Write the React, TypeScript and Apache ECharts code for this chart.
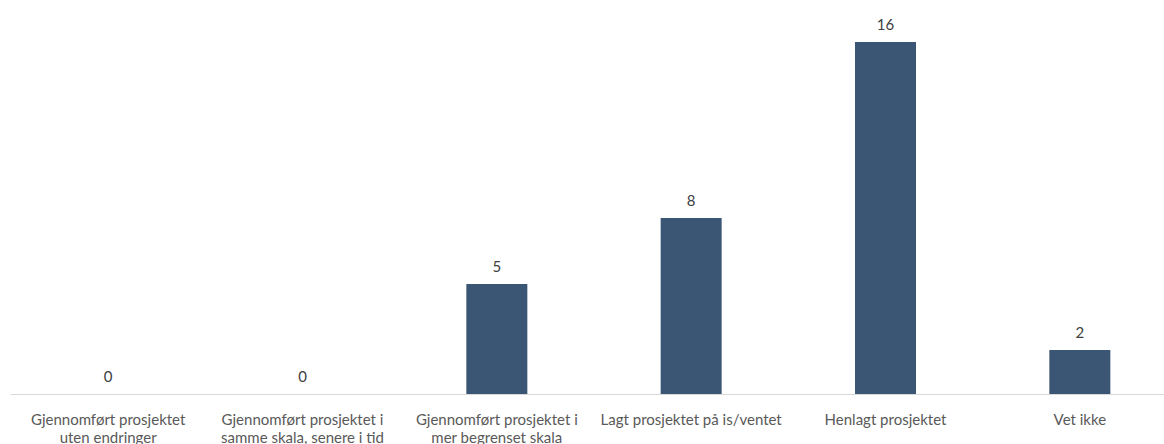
import React, { useEffect, useRef } from "react";
import * as echarts from "echarts";

const categories = [
  "Gjennomført prosjektet\nuten endringer",
  "Gjennomført prosjektet i\nsamme skala, senere i tid",
  "Gjennomført prosjektet i\nmer begrenset skala",
  "Lagt prosjektet på is/ventet",
  "Henlagt prosjektet",
  "Vet ikke",
];
const values = [0, 0, 5, 8, 16, 2];

const FONT = "Lato, 'Noto Sans', sans-serif";

export default function App() {
  const ref = useRef<HTMLDivElement>(null);
  useEffect(() => {
    if (!ref.current) return;
    const chart = echarts.init(ref.current, undefined, { renderer: "svg" });
    chart.setOption({
      animation: false,
      grid: {
        left: 11,
        width: 1166,
        top: 42,
        bottom: 50,
        containLabel: false,
        outerBoundsMode: "none",
      },
      xAxis: {
        type: "category",
        data: categories,
        axisLine: { show: true, lineStyle: { color: "#d9d9d9", width: 1 } },
        axisTick: { show: false },
        axisLabel: {
          interval: 0,
          color: "#595959",
          fontFamily: FONT,
          fontSize: 15,
          lineHeight: 18,
          margin: 16,
        },
      },
      yAxis: {
        type: "value",
        min: 0,
        max: 16,
        show: false,
        splitLine: { show: false },
      },
      series: [
        {
          type: "bar",
          data: values,
          barWidth: 61,
          itemStyle: { color: "#3a5674" },
          label: {
            show: true,
            position: "top",
            distance: 11,
            color: "#404040",
            fontFamily: FONT,
            fontSize: 15,
          },
        },
      ],
    });
    return () => chart.dispose();
  }, []);
  return (
    <div
      ref={ref}
      style={{ position: "fixed", left: 0, top: 0, width: 1164, height: 444, background: "#fff" }}
    />
  );
}
